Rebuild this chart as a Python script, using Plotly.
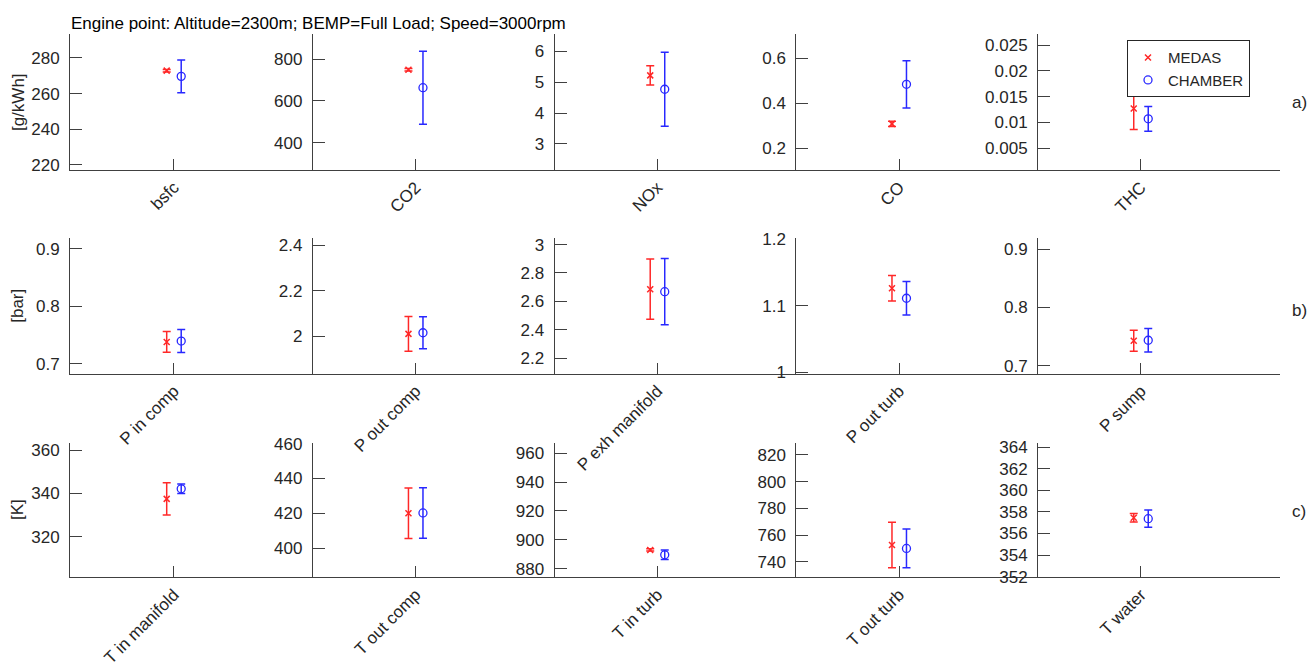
import plotly.graph_objects as go

# ---------------- data ----------------
title_text = "Engine point: Altitude=2300m; BEMP=Full Load; Speed=3000rpm"
series_names = ["MEDAS", "CHAMBER"]

categories_a = ["bsfc", "CO2", "NOx", "CO", "THC"]
medas_a = [272.9, 749, 5.22, 0.309, 0.0127]
medas_a_err = [0.7, 6, 0.31, 0.012, 0.0041]
chamber_a = [269.7, 663, 4.77, 0.485, 0.0107]
chamber_a_err = [9.2, 174, 1.2, 0.105, 0.0024]

categories_b = ["P in comp", "P out comp", "P exh manifold", "P out turb", "P sump"]
medas_b = [0.738, 2.010, 2.686, 1.126, 0.743]
medas_b_err = [0.018, 0.076, 0.212, 0.019, 0.018]
chamber_b = [0.7395, 2.015, 2.668, 1.111, 0.744]
chamber_b_err = [0.020, 0.070, 0.233, 0.025, 0.020]

categories_c = ["T in manifold", "T out comp", "T in turb", "T out turb", "T water"]
medas_c = [337.5, 420.0, 893.0, 752.7, 357.46]
medas_c_err = [7.5, 14.5, 0.8, 17.0, 0.4]
chamber_c = [342.2, 420.2, 889.6, 750.1, 357.37]
chamber_c_err = [2.2, 14.5, 3.3, 14.5, 0.8]

units = ["[g/kWh]", "[bar]", "[K]"]
panel_tags = ["a)", "b)", "c)"]

ticks_a = [[220, 240, 260, 280], [400, 600, 800], [3, 4, 5, 6], [0.2, 0.4, 0.6],
           [0.005, 0.01, 0.015, 0.02, 0.025]]
ticks_b = [[0.7, 0.8, 0.9], [2, 2.2, 2.4], [2.2, 2.4, 2.6, 2.8, 3], [1, 1.1, 1.2], [0.7, 0.8, 0.9]]
ticks_c = [[320, 340, 360], [400, 420, 440, 460], [880, 900, 920, 940, 960],
           [740, 760, 780, 800, 820], [352, 354, 356, 358, 360, 362, 364]]

ranges_a = [[217.2, 293.3], [271, 918], [2.16, 6.55], [0.105, 0.707], [0.0008, 0.0271]]
ranges_b = [[0.683, 0.919], [1.836, 2.431], [2.092, 3.046], [0.9985, 1.201], [0.687, 0.919]]
ranges_c = [[301.1, 363.6], [383.3, 460.5], [874.1, 967.2], [728.6, 829.0], [351.95, 364.4]]

rows = [
    (categories_a, medas_a, medas_a_err, chamber_a, chamber_a_err, ticks_a, ranges_a),
    (categories_b, medas_b, medas_b_err, chamber_b, chamber_b_err, ticks_b, ranges_b),
    (categories_c, medas_c, medas_c_err, chamber_c, chamber_c_err, ticks_c, ranges_c),
]

# ---------------- layout geometry (pixels) ----------------
W, H = 1314, 672
FONT = "Liberation Sans, Arial, sans-serif"
FS = 17
TXT = "#262626"
AX = "#404040"
RED = "rgb(255,40,40)"
BLUE = "rgb(40,40,255)"

x_left_px, x_right_px = 70, 1280
x_range = [0.57, 5.575]
px_per_unit = (x_right_px - x_left_px) / (x_range[1] - x_range[0])
row_px = [(27, 166), (236, 375), (446, 584)]
off = 0.03

fig = go.Figure()
layout = dict(
    width=W, height=H, margin=dict(l=0, r=0, t=0, b=0),
    paper_bgcolor="white", plot_bgcolor="white",
    font=dict(family=FONT, size=FS, color=TXT),
    showlegend=True,
    legend=dict(x=1127 / W, y=1 - 33 / H, xanchor="left", yanchor="top",
                bgcolor="white", bordercolor="#262626", borderwidth=1,
                font=dict(family=FONT, size=15, color=TXT), tracegroupgap=0,
                itemwidth=30),
)

annotations = []
for r, (cats, med, mede, cha, chae, ticks, ranges) in enumerate(rows):
    top_px, bot_px = row_px[r]
    dom = [1 - bot_px / H, 1 - top_px / H]
    xname = "x" if r == 0 else f"x{r + 1}"
    xkey = "xaxis" if r == 0 else f"xaxis{r + 1}"
    layout[xkey] = dict(
        domain=[x_left_px / W, x_right_px / W], range=x_range,
        anchor=f"y{r * 5 + 1}" if r > 0 else "y",
        tickmode="array", tickvals=[1, 2, 3, 4, 5], ticktext=cats,
        tickangle=-45, ticks="inside", ticklen=11, tickcolor=AX, tickwidth=1,
        showline=True, linecolor=AX, linewidth=1, showgrid=False, zeroline=False,
        tickfont=dict(family=FONT, size=FS, color=TXT),
    )
    base_id = r * 5 + 1
    for k in range(5):
        yid = base_id + k
        ykey = "yaxis" if yid == 1 else f"yaxis{yid}"
        yname = "y" if yid == 1 else f"y{yid}"
        pos_x = 1 + k - 0.43
        pos_px = x_left_px + (pos_x - x_range[0]) * px_per_unit
        ax = dict(
            range=ranges[k], tickmode="array", tickvals=ticks[k],
            ticks="inside", ticklen=12, tickcolor=AX, tickwidth=1,
            showline=True, linecolor=AX, linewidth=1, showgrid=False, zeroline=False,
            tickfont=dict(family=FONT, size=FS, color=TXT), ticklabelstandoff=6,
        )
        if k == 0:
            ax.update(domain=dom, anchor=xname)
        else:
            base_name = "y" if base_id == 1 else f"y{base_id}"
            ax.update(overlaying=base_name, anchor="free", position=pos_px / W, side="left")
        layout[ykey] = ax

        fig.add_trace(go.Scatter(
            x=[k + 1 - off], y=[med[k]], xaxis=xname, yaxis=yname,
            mode="markers", name=series_names[0], legendgroup="m",
            showlegend=(r == 0 and k == 0),
            marker=dict(symbol="x-thin-open", size=6, color=RED, line=dict(width=1.5, color=RED)),
            error_y=dict(type="data", array=[mede[k]], color=RED, thickness=1.5, width=4),
        ))
        fig.add_trace(go.Scatter(
            x=[k + 1 + off], y=[cha[k]], xaxis=xname, yaxis=yname,
            mode="markers", name=series_names[1], legendgroup="c",
            showlegend=(r == 0 and k == 0),
            marker=dict(symbol="circle-open", size=8, color=BLUE, line=dict(width=1.3, color=BLUE)),
            error_y=dict(type="data", array=[chae[k]], color=BLUE, thickness=1.5, width=4),
        ))

    # unit label
    annotations.append(dict(
        text=units[r], x=18 / W, y=1 - (top_px + bot_px) / 2 / H, xref="paper", yref="paper",
        xanchor="center", yanchor="middle", textangle=-90, showarrow=False,
        font=dict(family=FONT, size=FS, color=TXT)))
    # panel tag
    tag_y = [97, 310, 517][r]
    annotations.append(dict(
        text=panel_tags[r], x=1290 / W, y=1 - tag_y / H, xref="paper", yref="paper",
        xanchor="left", yanchor="middle", showarrow=False,
        font=dict(family=FONT, size=FS, color=TXT)))

annotations.append(dict(
    text=title_text, x=69 / W, y=1 - 16 / H, xref="paper", yref="paper",
    xanchor="left", yanchor="middle", showarrow=False,
    font=dict(family=FONT, size=FS, color="#000000")))

layout["annotations"] = annotations
fig.update_layout(**layout)

fig.write_html("out.html", config={"displayModeBar": False},
               post_script="document.body.style.margin='0';document.body.style.overflow='hidden';")
